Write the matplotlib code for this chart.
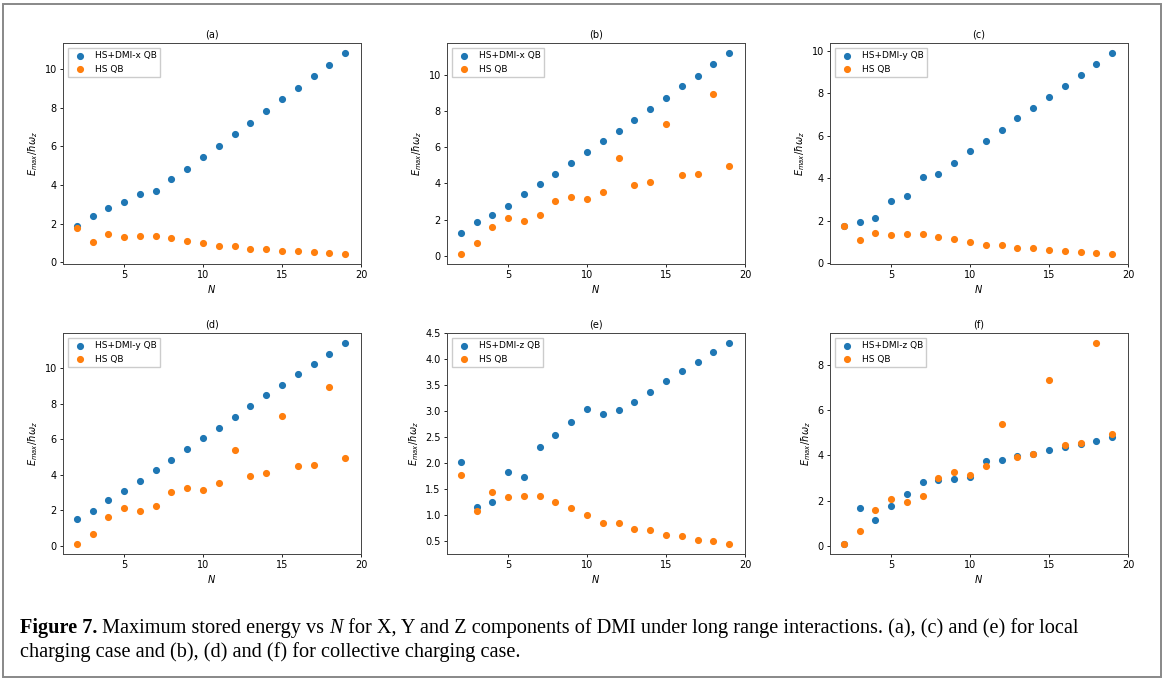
import numpy as np
import matplotlib
matplotlib.use("Agg")
import matplotlib.pyplot as plt
from matplotlib.patches import Rectangle

# number of qubits
N = list(range(2, 20))

# HS QB reference curves (same in local / collective panels)
hs_local = [1.77, 1.08, 1.45, 1.34, 1.36, 1.36, 1.24, 1.13, 1.00, 0.85, 0.85,
            0.72, 0.70, 0.61, 0.60, 0.52, 0.50, 0.44]
hs_collective = [0.10, 0.68, 1.60, 2.10, 1.93, 2.23, 3.02, 3.28, 3.15, 3.52,
                 5.40, 3.92, 4.08, 7.32, 4.48, 4.55, 8.95, 4.95]

# HS+DMI curves for each panel
dmi_a = [1.90, 2.38, 2.80, 3.12, 3.52, 3.70, 4.30, 4.85, 5.45, 6.03, 6.62,
         7.22, 7.80, 8.42, 9.00, 9.62, 10.20, 10.82]
dmi_b = [1.25, 1.85, 2.25, 2.78, 3.42, 3.95, 4.55, 5.15, 5.75, 6.33, 6.93,
         7.53, 8.15, 8.75, 9.37, 9.97, 10.60, 11.22]
dmi_c = [1.77, 1.93, 2.13, 2.92, 3.15, 4.08, 4.20, 4.72, 5.28, 5.77, 6.30,
         6.82, 7.32, 7.85, 8.37, 8.87, 9.37, 9.90]
dmi_d = [1.52, 1.97, 2.58, 3.10, 3.65, 4.27, 4.85, 5.45, 6.05, 6.65, 7.27,
         7.87, 8.47, 9.05, 9.65, 10.25, 10.82, 11.42]
dmi_e = [2.02, 1.16, 1.24, 1.82, 1.73, 2.30, 2.53, 2.79, 3.04, 2.95, 3.02,
         3.17, 3.37, 3.57, 3.77, 3.94, 4.13, 4.31]
dmi_f = [0.10, 1.70, 1.17, 1.78, 2.32, 2.85, 2.92, 2.95, 3.07, 3.75, 3.82,
         3.98, 4.08, 4.25, 4.38, 4.52, 4.65, 4.82]

panels = [
    ("(a)", dmi_a, "HS+DMI-x QB", hs_local),
    ("(b)", dmi_b, "HS+DMI-x QB", hs_collective),
    ("(c)", dmi_c, "HS+DMI-y QB", hs_local),
    ("(d)", dmi_d, "HS+DMI-y QB", hs_collective),
    ("(e)", dmi_e, "HS+DMI-z QB", hs_local),
    ("(f)", dmi_f, "HS+DMI-z QB", hs_collective),
]

W, H = 1165, 680
fig = plt.figure(figsize=(W / 100, H / 100), dpi=100)

lefts = [63, 447, 830]
tops = [43, 333]
aw, ah = 298, 221

for i, (title, dmi, lab, hs) in enumerate(panels):
    r, c = divmod(i, 3)
    ax = fig.add_axes([lefts[c] / W, 1 - (tops[r] + ah) / H, aw / W, ah / H])
    ax.scatter(N, dmi, s=17, color="#1f77b4", label=lab, zorder=2)
    ax.scatter(N, hs, s=17, color="#ff7f0e", label="HS QB", zorder=3)
    ax.set_xlim(1.13, 20)
    ax.set_xticks([5, 10, 15, 20])
    ax.set_title(title, fontsize=7, pad=4)
    ax.set_xlabel("$N$", fontsize=7, labelpad=2)
    ax.set_ylabel(r"$E_{max}/\hbar\omega_z$", fontsize=7, labelpad=3)
    ax.tick_params(labelsize=7, length=2.5, width=0.6, pad=2)
    for sp in ax.spines.values():
        sp.set_linewidth(0.7)
        sp.set_color("#444444")
    ax.legend(loc="upper left", fontsize=6.5, scatterpoints=1,
              handletextpad=0.6, borderpad=0.4, labelspacing=0.5,
              fancybox=False, framealpha=1, edgecolor="#cccccc")

# outer frame
fig.add_artist(Rectangle((3 / W, 3 / H), 1 - 7 / W, 1 - 7 / H,
                         transform=fig.transFigure, fill=False,
                         edgecolor="#888888", linewidth=1.4))

# caption, written segment by segment
serif = "Liberation Serif"
fs = 14.6
fig.canvas.draw()
renderer = fig.canvas.get_renderer()


def put_line(segments, x, y):
    for txt, weight, style in segments:
        t = fig.text(x, y, txt, fontsize=fs, family=serif, fontweight=weight,
                     fontstyle=style, ha="left", va="baseline")
        bb = t.get_window_extent(renderer)
        x += bb.width / W


line1 = [("Figure 7.", "bold", "normal"),
         (" Maximum stored energy vs ", "normal", "normal"),
         ("N", "normal", "italic"),
         (" for X, Y and Z components of DMI under long range interactions. "
          "(a), (c) and (e) for local", "normal", "normal")]
line2 = [("charging case and (b), (d) and (f) for collective charging case.",
          "normal", "normal")]
put_line(line1, 20 / W, 1 - 633 / H)
put_line(line2, 20 / W, 1 - 657 / H)

fig.savefig("out.png", dpi=100)
